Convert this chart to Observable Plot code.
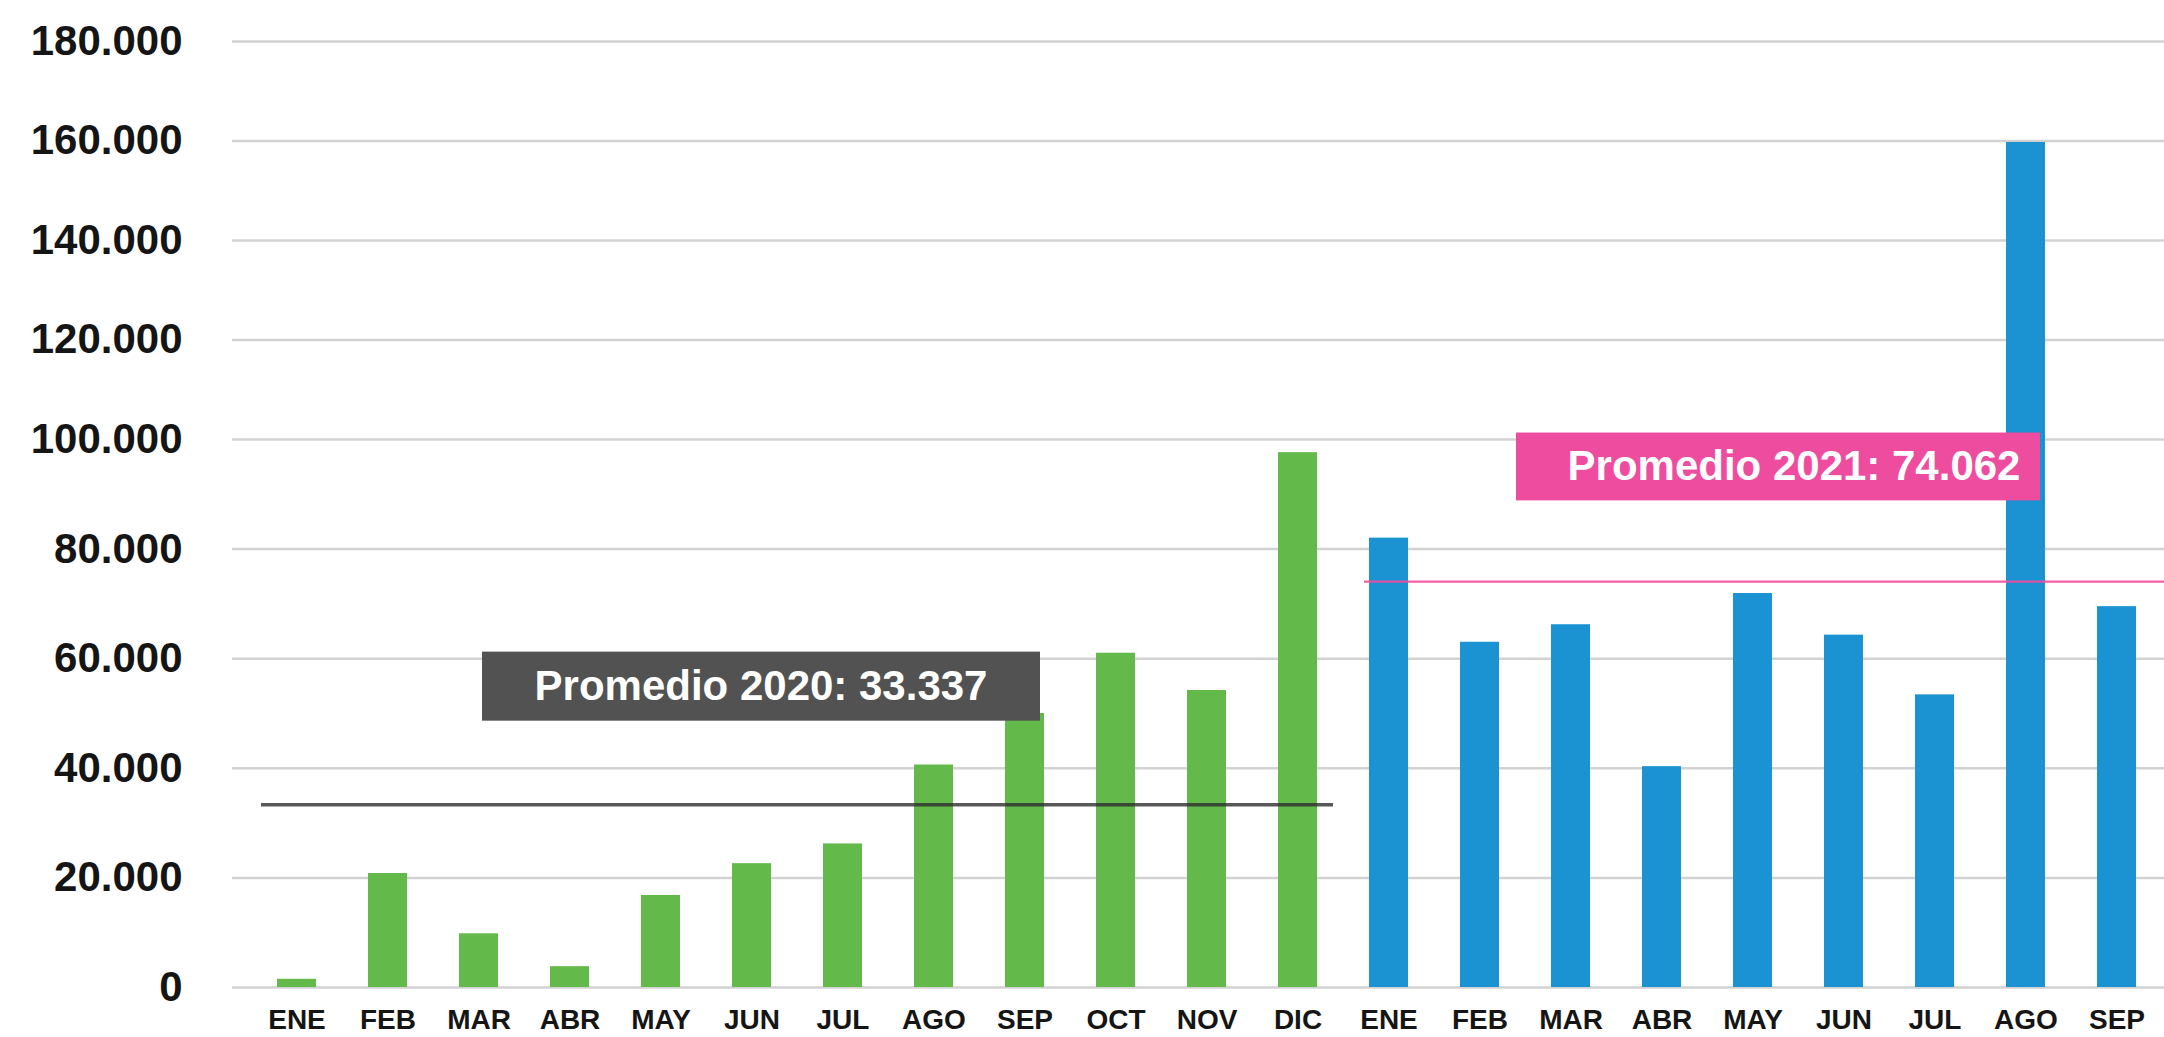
<!DOCTYPE html>
<html><head><meta charset="utf-8">
<script src="https://cdn.jsdelivr.net/npm/d3@7"></script>
<script src="https://cdn.jsdelivr.net/npm/@observablehq/plot@0.6"></script>
<style>
html,body{margin:0;padding:0;background:#fff;overflow:hidden;}
#chart svg{display:block;}
</style></head><body><div id="chart"></div>
<script>
const months2020 = ["ENE","FEB","MAR","ABR","MAY","JUN","JUL","AGO","SEP","OCT","NOV","DIC"];
const values2020 = [1500, 20800, 9800, 3800, 16800, 22600, 26200, 40600, 50000, 61000, 54200, 97600];
const months2021 = ["ENE","FEB","MAR","ABR","MAY","JUN","JUL","AGO","SEP"];
const values2021 = [82000, 63000, 66200, 40300, 71900, 64300, 53400, 159700, 69500];
const avg2020 = 33337;
const avg2021 = 74062;
const label2020 = "Promedio 2020: 33.337";
const label2021 = "Promedio 2021: 74.062";
const yTicks = [0, 20000, 40000, 60000, 80000, 100000, 120000, 140000, 160000, 180000];

const green = "#63ba4a", blue = "#1b93d3", pink = "#ee4c9e", dark = "#525252";

const rows = [
  ...months2020.map((m, i) => ({key: "2020-" + m, year: 2020, value: values2020[i]})),
  ...months2021.map((m, i) => ({key: "2021-" + m, year: 2021, value: values2021[i]}))
];
const keys = rows.map(d => d.key);
const fmt = d3.formatLocale({decimal: ",", thousands: ".", grouping: [3], currency: ["$", ""]}).format(",d");

const plot = Plot.plot({
  width: 2164, height: 1037,
  marginLeft: 232, marginRight: 0, marginTop: 42, marginBottom: 50,
  style: {background: "#fff", fontFamily: "'Liberation Sans', Arial, sans-serif", color: "#151515"},
  x: {domain: keys, range: [232, 2180], paddingInner: 0.574, paddingOuter: 0.43, label: null, axis: null},
  // the reference axis is drawn with slightly wider steps below 100.000 than above
  y: {type: "linear", domain: [0, 100000, 180000], range: [987, 439, 41], label: null, axis: null},
  marks: [
    Plot.ruleY(yTicks, {stroke: "#d2d2d2", strokeWidth: 2.5}),
    Plot.barY(rows, {x: "key", y: "value", fill: d => d.year === 2020 ? green : blue}),
    Plot.ruleY([{y: avg2020, x1: "2020-ENE", x2: "2020-DIC"}], {y: "y", x1: "x1", x2: "x2", stroke: "#2e2e2e", strokeOpacity: 0.8, strokeWidth: 3.5, insetLeft: -16, insetRight: -16}),
    Plot.ruleY([{y: avg2021, x1: "2021-ENE", x2: "2021-SEP"}], {y: "y", x1: "x1", x2: "x2", stroke: pink, strokeOpacity: 0.9, strokeWidth: 2.2, insetLeft: -5, insetRight: -60}),
    Plot.barY([{x: "2020-JUN", y1: 48600, y2: 61200}], {x: "x", y1: "y1", y2: "y2", fill: dark, insetLeft: -250, insetRight: -269}),
    Plot.barY([{x: "2021-MAY", y1: 88800, y2: 101300}], {x: "x", y1: "y1", y2: "y2", fill: pink, insetLeft: -217, insetRight: -268}),
    Plot.text([{x: "2020-JUN", y: 54900, t: label2020}], {x: "x", y: "y", text: "t", fill: "#fff", fontSize: 42, fontWeight: "bold", dx: 9}),
    Plot.text([{x: "2021-MAY", y: 95000, t: label2021}], {x: "x", y: "y", text: "t", fill: "#fff", fontSize: 42, fontWeight: "bold", dx: 41}),
    Plot.axisY({ticks: yTicks, tickFormat: fmt, tickSize: 0, tickPadding: 50, fontSize: 42, fontWeight: "bold", label: null}),
    Plot.axisX({tickSize: 0, tickPadding: 22, fontSize: 28, fontWeight: "bold", tickFormat: d => d.split("-")[1], label: null})
  ]
});
document.getElementById("chart").appendChild(plot);
</script></body></html>
